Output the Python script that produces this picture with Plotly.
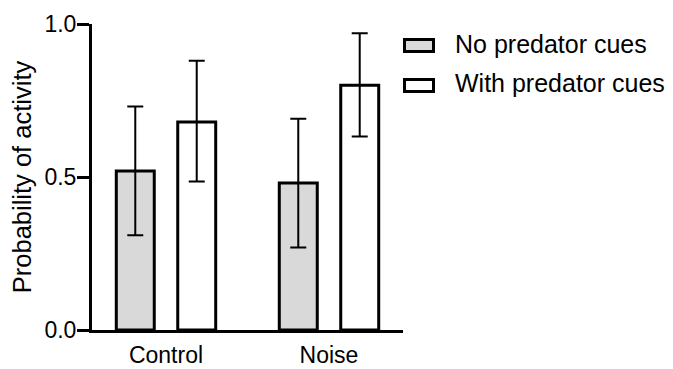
import plotly.graph_objects as go

categories = ["Control", "Noise"]
series_names = ["No predator cues", "With predator cues"]
no_cues = [0.52, 0.48]
no_cues_upper = [0.73, 0.69]
no_cues_lower = [0.31, 0.27]
with_cues = [0.68, 0.80]
with_cues_upper = [0.88, 0.97]
with_cues_lower = [0.485, 0.632]
y_ticks = [0.0, 0.5, 1.0]
y_ticklabels = ["0.0", "0.5", "1.0"]

FONT = "Liberation Sans, Arial, sans-serif"
fills = ["#d9d9d9", "#ffffff"]

fig = go.Figure()
for name, vals, up, lo, fill in [
    (series_names[0], no_cues, no_cues_upper, no_cues_lower, fills[0]),
    (series_names[1], with_cues, with_cues_upper, with_cues_lower, fills[1]),
]:
    fig.add_trace(go.Bar(
        x=categories, y=vals, name=name,
        marker=dict(color=fill, line=dict(color="black", width=3)),
        error_y=dict(type="data", symmetric=False,
                     array=[u - v for u, v in zip(up, vals)],
                     arrayminus=[v - l for v, l in zip(vals, lo)],
                     thickness=2, width=8, color="black"),
        showlegend=False,
    ))

# page body adds an 8px margin, so the figure is 8px smaller than the window
W, H = 665, 361
L, R, T, B = 84, 270, 16, 39
pw, ph = W - L - R, H - T - B

def px_x(x):
    return (x - L) / pw

def px_y(y):
    return (H - B - y) / ph

# custom legend (wide swatches like the reference)
sw_y = [37.5, 77.5]
tx_y = [36, 75]
for name, fill, sy, ty in zip(series_names, fills, sw_y, tx_y):
    fig.add_shape(type="rect", xref="paper", yref="paper",
                  x0=px_x(396.5), x1=px_x(425.5), y0=px_y(sy + 6), y1=px_y(sy - 6),
                  fillcolor=fill, line=dict(color="black", width=3), layer="above")
    fig.add_annotation(xref="paper", yref="paper", x=px_x(445), y=px_y(ty),
                       xanchor="left", yanchor="middle", text=name, showarrow=False,
                       font=dict(family=FONT, size=25, color="black"))

fig.update_layout(
    width=W, height=H,
    margin=dict(l=L, r=R, t=T, b=B, autoexpand=False),
    paper_bgcolor="white", plot_bgcolor="white",
    barmode="group", bargap=0.246, bargroupgap=0.382,
    font=dict(family=FONT, size=23, color="black"),
    xaxis=dict(range=[-0.454, 1.454], showline=True, linewidth=3, linecolor="black",
               ticks="", showgrid=False, zeroline=False, ticklabelstandoff=2,
               tickfont=dict(size=23), automargin=False),
    yaxis=dict(range=[0, 1], tickvals=y_ticks, ticktext=y_ticklabels,
               showline=True, linewidth=3, linecolor="black",
               ticks="outside", ticklen=12, tickwidth=3, tickcolor="black",
               showgrid=False, zeroline=False, tickfont=dict(size=23),
               ticklabelstandoff=-4,
               title=dict(text="Probability of activity", font=dict(size=25.5), standoff=8),
               automargin=False),
)

fig.write_html("out.html")
